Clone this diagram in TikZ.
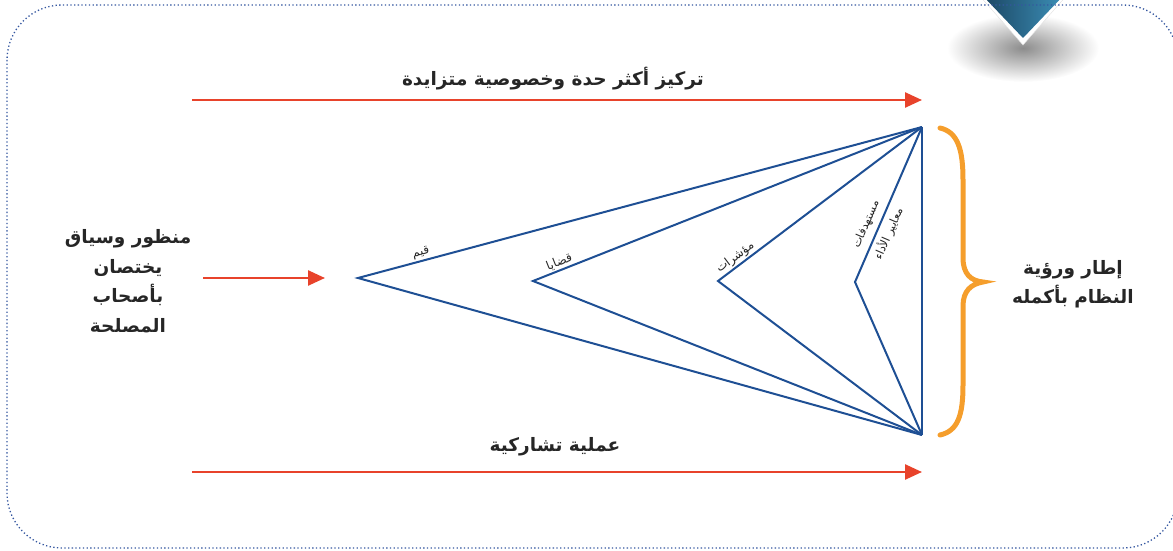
\documentclass[tikz,border=0pt]{standalone}
\usepackage{fontspec}
\usetikzlibrary{arrows.meta}
\newfontfamily\arabicfont[Script=Arabic]{DejaVu Sans}
\TeXXeTstate=1
\definecolor{arrowred}{HTML}{E8432B}
\definecolor{lineblue}{HTML}{1E4F94}
\definecolor{braceorange}{HTML}{F59E2C}
\definecolor{frameblue}{HTML}{3557A0}
\definecolor{tagdark}{HTML}{1B4562}
\definecolor{taglight}{HTML}{3C90B8}

\begin{document}
\begin{tikzpicture}[x=1pt, y=-1pt,
	redarrow/.style={arrowred, line width=2.5pt, -{Triangle[length=17pt, width=15pt]}},
	tri/.style={lineblue, line width=2pt, line join=miter},
	bigtext/.style={font=\arabicfont\bfseries\fontsize{18.5}{29.5}\selectfont, align=center, text=black!85},
	smalltext/.style={font=\arabicfont\fontsize{12}{14}\selectfont, inner sep=1.5pt, text=black!85}]
	
	\clip (0,0) rectangle (1173,551);
	
	\shade[inner color=black!45, outer color=white] (1023,48) ellipse [x radius=76, y radius=34];
	\fill[white, draw=black!12] (978,-6) -- (1068,-6) -- (1023,45) -- cycle;
	\shade[left color=tagdark, right color=taglight] (982,-5) -- (1064,-5) -- (1023,38) -- cycle;
	
	\draw[frameblue, line width=1.3pt, dash pattern=on 1.3pt off 2.4pt, rounded corners=55pt] (7,5) rectangle (1178,548);
	
	\coordinate (T) at (922,127);
	\coordinate (B) at (922,435);
	\coordinate (q1) at (358,278);
	\coordinate (q2) at (533,281);
	\coordinate (q3) at (718,281);
	\coordinate (q4) at (855,282);
	
	\coordinate (topS) at (192,100);
	\coordinate (topE) at (922,100);
	\coordinate (botS) at (192,472);
	\coordinate (botE) at (922,472);
	\coordinate (midS) at (203,278);
	\coordinate (midE) at (325,278);
	
	\draw[redarrow] (topS) -- (topE);
	\draw[redarrow] (botS) -- (botE);
	\draw[redarrow] (midS) -- (midE);
	
	\draw[tri] (B) -- (q1) -- node[sloped, above, smalltext, pos=0.115] {\beginR قيم\endR} (T);
	\draw[tri] (B) -- (q2) -- node[sloped, above, smalltext, pos=0.075] {\beginR قضايا\endR} (T);
	\draw[tri] (B) -- (q3) -- node[sloped, above, smalltext, pos=0.11] {\beginR مؤشرات\endR} (T);
	\draw[tri] (B) -- (q4) -- node[sloped, smalltext, pos=0.34, align=center, font=\arabicfont\fontsize{11.5}{25}\selectfont] {\beginR مستهدفات\endR\\\beginR معايير الأداء\endR} (T);
	\draw[tri] (T) -- (B);
	
	\draw[braceorange, line width=5pt, line cap=round] (940,128) .. controls (958,132) and (963,150) .. (963,180) -- (963,258) .. controls (963,274) and (971,281) .. (983,282) .. controls (971,284) and (963,291) .. (963,306) -- (963,385) .. controls (963,415) and (958,431) .. (940,435);
	
	\node[bigtext] (focus) at (553,79) {\beginR تركيز أكثر حدة وخصوصية متزايدة\endR};
	\node[bigtext] (share) at (555,447) {\beginR عملية تشاركية\endR};
	\node[bigtext] (stake) at (128,281) {\beginR منظور وسياق\endR\\\beginR يختصان\endR\\\beginR بأصحاب\endR\\\beginR المصلحة\endR};
	\node[bigtext] (whole) at (1073,284) {\beginR إطار ورؤية\endR\\\beginR النظام بأكمله\endR};
	
\end{tikzpicture}
\end{document}
